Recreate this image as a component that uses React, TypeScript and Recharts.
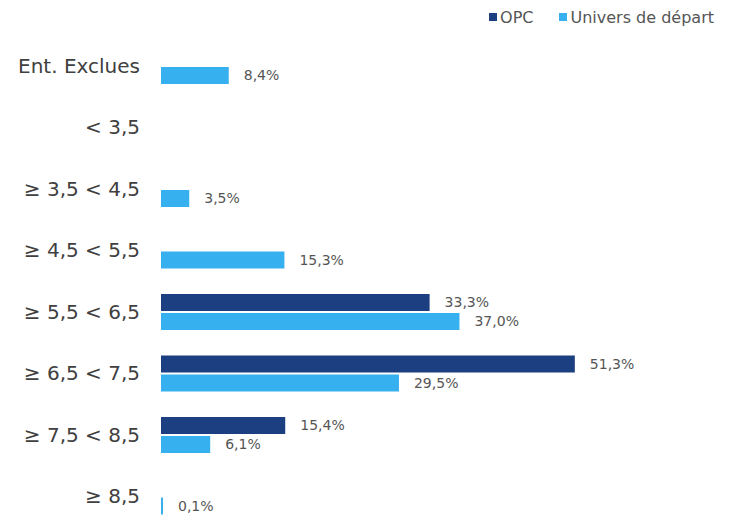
import React from 'react';
import { BarChart, Bar, XAxis, YAxis, LabelList } from 'recharts';

const categories = ['Ent. Exclues', '< 3,5', '≥ 3,5 < 4,5', '≥ 4,5 < 5,5', '≥ 5,5 < 6,5', '≥ 6,5 < 7,5', '≥ 7,5 < 8,5', '≥ 8,5'];
const opcValues: (number | null)[] = [null, null, null, null, 33.3, 51.3, 15.4, null];
const universValues: (number | null)[] = [8.4, null, 3.5, 15.3, 37.0, 29.5, 6.1, 0.1];

const OPC_COLOR = '#1b3f80';
const UNIVERS_COLOR = '#36b0ee';
const FONT = '"DejaVu Sans", sans-serif';

const chartData = categories.map((name, i) => ({
  name,
  opc: opcValues[i],
  univers: universValues[i],
}));

const fmt = (v: any) => (v === null || v === undefined ? '' : `${Number(v).toFixed(1).replace('.', ',')}%`);
const minSize = (v: any) => (v ? 2 : 0);

const LegendItem = ({ color, label }: { color: string; label: string }) => (
  <span style={{ display: 'inline-flex', alignItems: 'center', marginLeft: 26 }}>
    <span style={{ display: 'inline-block', width: 8, height: 8, background: color, marginRight: 3 }} />
    {label}
  </span>
);

export default function App() {
  return (
    <div style={{ position: 'fixed', left: 0, top: 0, width: 732, height: 518, overflow: 'hidden', background: '#fff', fontFamily: FONT }}>
      <div style={{ position: 'absolute', top: 6, right: 18, fontSize: 16, color: '#555', whiteSpace: 'nowrap' }}>
        <LegendItem color={OPC_COLOR} label="OPC" />
        <LegendItem color={UNIVERS_COLOR} label="Univers de départ" />
      </div>
      <BarChart
        width={732}
        height={540}
        data={chartData}
        layout="vertical"
        margin={{ top: 35, right: 87, bottom: 13, left: 0 }}
        barSize={17}
        barGap={2}
      >
        <XAxis type="number" domain={[0, 60]} hide />
        <YAxis
          type="category"
          dataKey="name"
          width={161}
          axisLine={false}
          tickLine={false}
          tickSize={0}
          tickMargin={21}
          tick={{ fontSize: 20, fill: '#404040', fontFamily: FONT }}
          interval={0}
        />
        <Bar dataKey="opc" name="OPC" fill={OPC_COLOR} minPointSize={minSize} isAnimationActive={false}>
          <LabelList dataKey="opc" position="right" offset={15} formatter={fmt} style={{ fontSize: 14, fill: '#555', fontFamily: FONT }} />
        </Bar>
        <Bar dataKey="univers" name="Univers de départ" fill={UNIVERS_COLOR} minPointSize={minSize} isAnimationActive={false}>
          <LabelList dataKey="univers" position="right" offset={15} formatter={fmt} style={{ fontSize: 14, fill: '#555', fontFamily: FONT }} />
        </Bar>
      </BarChart>
    </div>
  );
}
